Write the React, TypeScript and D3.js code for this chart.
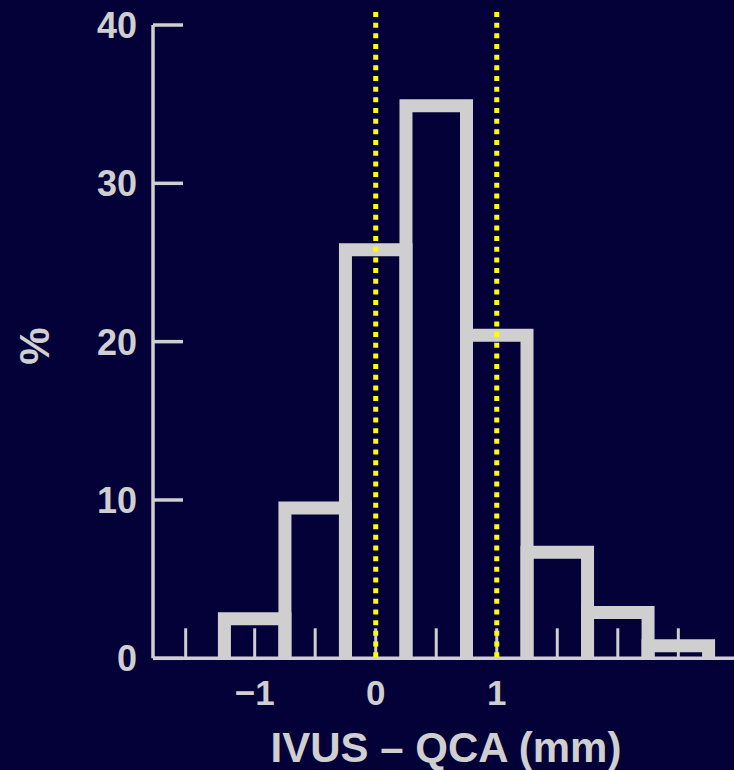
import React, { useEffect, useRef } from 'react';
import * as d3 from 'd3';

// histogram bins (mm) and share of lesions (%)
const binEdges = [-1.25, -0.75, -0.25, 0.25, 0.75, 1.25, 1.75, 2.25, 2.75];
const percents = [2.5, 9.5, 25.8, 34.9, 20.4, 6.7, 2.9, 0.8];

const yTicks = [0, 10, 20, 30, 40];
const xTickLabels = [-1, 0, 1];
const minorTicks = [-1.57, -1, -0.5, 0, 0.5, 1, 1.5, 2, 2.5];
const refLines = [0, 1];

const W = 734;
const H = 770;
const BG = '#040038';
const FG = '#cfcfcf';
const FONT = '"Liberation Sans", Arial, sans-serif';

const App = () => {
  const ref = useRef(null);

  useEffect(() => {
    const svg = d3.select(ref.current);
    svg.selectAll('*').remove();

    const x = d3.scaleLinear().domain([-1.84, 2.96]).range([153, 734]);
    const y = d3.scaleLinear().domain([0, 40]).range([658.3, 25]);

    svg.append('rect').attr('width', W).attr('height', H).attr('fill', BG);

    // minor ticks pointing up from the baseline
    svg.append('g')
      .selectAll('line')
      .data(minorTicks)
      .join('line')
      .attr('x1', (d) => x(d))
      .attr('x2', (d) => x(d))
      .attr('y1', y(0))
      .attr('y2', y(0) - 30)
      .attr('stroke', FG)
      .attr('stroke-width', 3);

    // bars as open outlines (no bottom edge)
    const line = d3.line();
    svg.append('g')
      .selectAll('path')
      .data(percents)
      .join('path')
      .attr('d', (v, i) => line([
        [x(binEdges[i]), y(0)],
        [x(binEdges[i]), y(v)],
        [x(binEdges[i + 1]), y(v)],
        [x(binEdges[i + 1]), y(0)],
      ]))
      .attr('fill', 'none')
      .attr('stroke', FG)
      .attr('stroke-width', 13)
      .attr('stroke-linejoin', 'miter');

    // axes
    svg.append('line')
      .attr('x1', x.range()[0]).attr('x2', x.range()[1])
      .attr('y1', y(0)).attr('y2', y(0))
      .attr('stroke', FG).attr('stroke-width', 3.5);
    svg.append('line')
      .attr('x1', x.range()[0]).attr('x2', x.range()[0])
      .attr('y1', y(40)).attr('y2', y(0))
      .attr('stroke', FG).attr('stroke-width', 3.5);

    // y ticks + labels
    const yt = svg.append('g');
    yt.selectAll('line')
      .data(yTicks)
      .join('line')
      .attr('x1', x.range()[0])
      .attr('x2', x.range()[0] + 30)
      .attr('y1', (d) => y(d))
      .attr('y2', (d) => y(d))
      .attr('stroke', FG)
      .attr('stroke-width', 3.5);
    yt.selectAll('text')
      .data(yTicks)
      .join('text')
      .attr('x', x.range()[0] - 16)
      .attr('y', (d) => y(d))
      .attr('dy', '0.36em')
      .attr('text-anchor', 'end')
      .attr('fill', FG)
      .style('font-family', FONT)
      .style('font-weight', 'bold')
      .style('font-size', '36px')
      .text((d) => d);

    // x labels
    svg.append('g')
      .selectAll('text')
      .data(xTickLabels)
      .join('text')
      .attr('x', (d) => x(d))
      .attr('y', 705)
      .attr('text-anchor', 'middle')
      .attr('fill', FG)
      .style('font-family', FONT)
      .style('font-weight', 'bold')
      .style('font-size', '35px')
      .text((d) => (d < 0 ? '\u2212' + Math.abs(d) : String(d)));

    // yellow dotted reference lines
    svg.append('g')
      .selectAll('line')
      .data(refLines)
      .join('line')
      .attr('x1', (d) => x(d))
      .attr('x2', (d) => x(d))
      .attr('y1', 12)
      .attr('y2', y(0))
      .attr('stroke', '#ffff00')
      .attr('stroke-width', 5)
      .attr('stroke-dasharray', '5,5.67');

    // axis titles
    svg.append('text')
      .attr('x', 446)
      .attr('y', 762)
      .attr('text-anchor', 'middle')
      .attr('fill', FG)
      .style('font-family', FONT)
      .style('font-weight', 'bold')
      .style('font-size', '42px')
      .text('IVUS \u2013 QCA (mm)');

    svg.append('text')
      .attr('transform', 'translate(34,346) rotate(-90)')
      .attr('dy', '0.36em')
      .attr('text-anchor', 'middle')
      .attr('fill', FG)
      .style('font-family', FONT)
      .style('font-weight', 'bold')
      .style('font-size', '42px')
      .text('%');
  }, []);

  return (
    <svg
      ref={ref}
      width={W}
      height={H}
      style={{ position: 'absolute', left: 0, top: 0, display: 'block' }}
    />
  );
};

export default App;
